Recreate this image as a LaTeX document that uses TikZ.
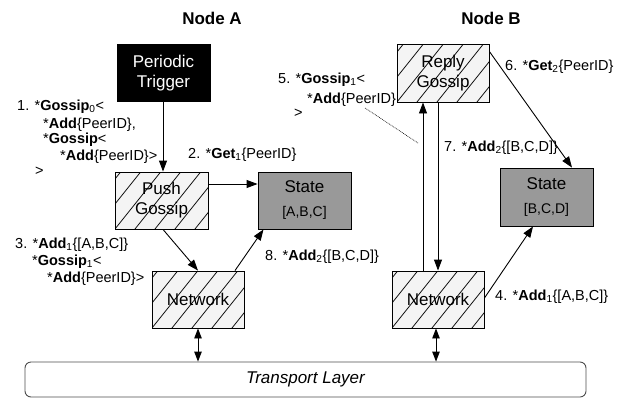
\documentclass[tikz,border=0pt]{standalone}
\usepackage{fontspec}
\setmainfont{Liberation Sans}
\usetikzlibrary{arrows.meta}
\definecolor{hatchbg}{HTML}{F4F4F4}
\definecolor{stategray}{HTML}{999999}
\begin{document}
\begin{tikzpicture}[x=1pt,y=-1pt,
  box/.style={draw=black, line width=0.9pt, minimum width=93pt, minimum height=57pt, inner sep=0pt, align=center, font=\fontsize{17}{20}\selectfont},
  hatched/.style={box, fill=hatchbg, path picture={\foreach \k in {-5,...,6}{\draw[line width=0.75pt] ([xshift=\k*20pt]path picture bounding box.south west) -- ++(60,-75);}}},
  statebox/.style={box, fill=stategray},
  lab/.style={anchor=base west, inner sep=0pt, font=\fontsize{14.5}{16}\selectfont},
  ttl/.style={anchor=base, inner sep=0pt, font=\fontsize{17}{20}\selectfont\bfseries},
  arr/.style={line width=0.9pt, -{Triangle[length=11pt,width=8pt]}},
  darr/.style={line width=0.9pt, {Triangle[length=10pt,width=7.5pt]}-{Triangle[length=10pt,width=7.5pt]}}
]
\useasboundingbox (0,0) rectangle (623,399);

% titles
\node[ttl] (tA) at (212,24) {Node A};
\node[ttl] (tB) at (491,24) {Node B};

% boxes
\node[box, fill=black, text=white] (trig) at (163.5,73) {Periodic\\Trigger};
\node[hatched] (push) at (161.5,200.5) {Push\\Gossip};
\node[statebox] (stA) at (304.5,200.5) {State\\[4pt]{\fontsize{14}{16}\selectfont [A,B,C]}};
\node[hatched, minimum width=92pt] (netA) at (198,299.5) {Network};
\node[hatched, minimum width=92pt, minimum height=58pt] (reply) at (443,73) {Reply\\Gossip};
\node[statebox, minimum height=58pt] (stB) at (546.5,197) {State\\[4pt]{\fontsize{14}{16}\selectfont [B,C,D]}};
\node[hatched, minimum width=92pt] (netB) at (438,299.5) {Network};
\node[draw=black!70, line width=0.9pt, rounded corners=6pt, minimum width=561pt, minimum height=35pt, inner sep=0pt, font=\fontsize{17}{20}\selectfont\itshape] (trans) at (305.5,379.5) {Transport Layer};

% connectors
\draw[arr] (trig.south -| 163,0) -- (push.north -| 163,0);
\draw[arr] ([yshift=16.5pt]push.east) -- ([yshift=16.5pt]push.east -| stA.west);
\draw[arr] ([xshift=1.5pt]push.south) -- (netA.north);
\draw[arr] ([xshift=37pt]netA.north) -- ([xshift=-41pt]stA.south);
\draw[darr] (netA.south) -- (netA.south |- trans.north);
\draw[arr] ([xshift=-15pt]netB.north) -- ([xshift=-15pt]netB.north |- reply.south);
\draw[arr] ([xshift=-5pt]reply.south) -- ([xshift=-5pt]reply.south |- netB.north);
\draw[arr] ([yshift=-8pt]reply.north east) -- ([xshift=25.5pt]stB.north);
\draw[arr] ([yshift=1.5pt]netB.east) -- ([xshift=-13.5pt]stB.south);
\draw[darr] ([xshift=-2pt]netB.south) -- ([xshift=-2pt]netB.south |- trans.north);

\coordinate (d1) at (365,108);
\coordinate (d2) at (418,143);
\draw[line width=0.6pt, dash pattern=on 0.8pt off 0.9pt] (d1) -- (d2);

% labels
\node[lab] (l1a) at (17,110) {1. *\textbf{Gossip}\textsubscript{0}<};
\node[lab] (l1b) at (43,128) {*\textbf{Add}\{PeerID\},};
\node[lab] (l1c) at (43,143) {*\textbf{Gossip}<};
\node[lab] (l1d) at (60,160) {*\textbf{Add}\{PeerID\}>};
\node[lab] (l1e) at (35,175) {>};

\node[lab] (l2) at (188,158) {2. *\textbf{Get}\textsubscript{1}\{PeerID\}};

\node[lab] (l3a) at (15,248) {3. *\textbf{Add}\textsubscript{1}\{[A,B,C]\}};
\node[lab] (l3b) at (32,265) {*\textbf{Gossip}\textsubscript{1}<};
\node[lab] (l3c) at (47,282) {*\textbf{Add}\{PeerID\}>};

\node[lab] (l8) at (265,260) {8. *\textbf{Add}\textsubscript{2}\{[B,C,D]\}};

\node[lab] (l5a) at (278,83) {5. *\textbf{Gossip}\textsubscript{1}<};
\node[lab] (l5b) at (307,103) {*\textbf{Add}\{PeerID\}};
\node[lab] (l5c) at (294,117) {>};

\node[lab] (l6) at (505,70) {6. *\textbf{Get}\textsubscript{2}\{PeerID\}};
\node[lab] (l7) at (444,151) {7. *\textbf{Add}\textsubscript{2}\{[B,C,D]\}};
\node[lab] (l4) at (495,300) {4. *\textbf{Add}\textsubscript{1}\{[A,B,C]\}};
\end{tikzpicture}
\end{document}
